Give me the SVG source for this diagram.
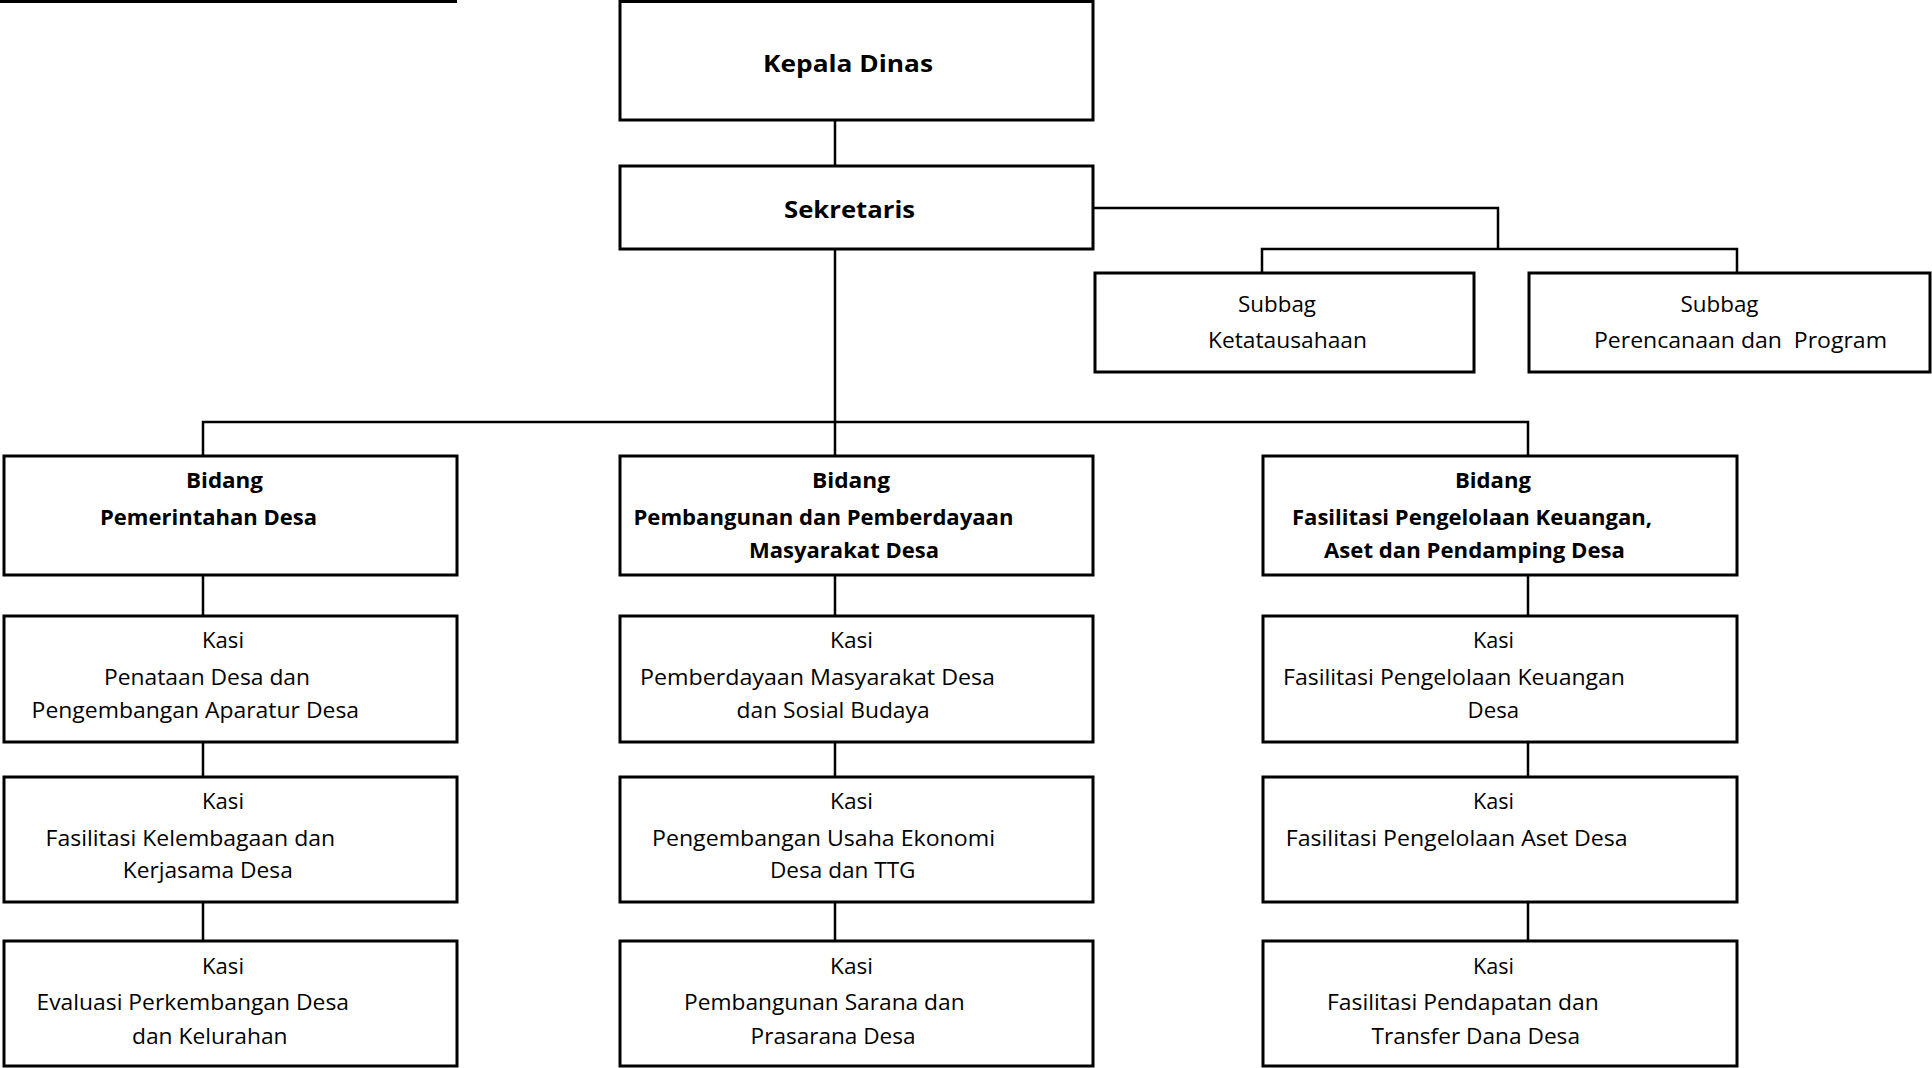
<svg xmlns="http://www.w3.org/2000/svg" width="1932" height="1068" viewBox="0 0 1932 1068">
<style>
.box{fill:#fff;stroke:#000;stroke-width:3}
.con{fill:none;stroke:#000;stroke-width:2.5}
text{font-family:"Open Sans","Noto Sans","Liberation Sans",sans-serif;fill:#000}
.t{font-size:24px;font-weight:bold}
.b{font-size:21px;font-weight:bold}
.r{font-size:21px}
</style>
<rect width="1932" height="1068" fill="#fff"/>
<line x1="0" y1="1.5" x2="457" y2="1.5" stroke="#000" stroke-width="3"/>
<g id="connectors">
<path class="con" d="M835,120 V456"/>
<path class="con" d="M1093,208 H1498 V249"/>
<path class="con" d="M1262,273 V249 H1737 V273"/>
<path class="con" d="M203,456 V422 H1528 V456"/>
<path class="con" d="M203,575 V616 M203,742 V777 M203,902 V941"/>
<path class="con" d="M835,575 V616 M835,742 V777 M835,902 V941"/>
<path class="con" d="M1528,575 V616 M1528,742 V777 M1528,902 V941"/>
</g>
<g id="kepala-dinas"><rect class="box" x="620" y="1.5" width="473" height="118.5"/>
<text class="t" x="763" y="72" textLength="170" lengthAdjust="spacingAndGlyphs">Kepala Dinas</text></g>
<g id="sekretaris"><rect class="box" x="620" y="166" width="473" height="83"/>
<text class="t" x="784" y="218" textLength="131" lengthAdjust="spacingAndGlyphs">Sekretaris</text></g>
<g id="subbag-ketatausahaan"><rect class="box" x="1095" y="273" width="379" height="99"/>
<text class="r" x="1238" y="312" textLength="78" lengthAdjust="spacingAndGlyphs">Subbag</text>
<text class="r" x="1208" y="348" textLength="159" lengthAdjust="spacingAndGlyphs">Ketatausahaan</text></g>
<g id="subbag-perencanaan"><rect class="box" x="1529" y="273" width="401" height="99"/>
<text class="r" x="1680.5" y="312" textLength="78" lengthAdjust="spacingAndGlyphs">Subbag</text>
<text class="r" x="1594" y="348" textLength="293" lengthAdjust="spacingAndGlyphs" style="white-space:pre">Perencanaan dan  Program</text></g>
<g id="bidang-pemerintahan"><rect class="box" x="4" y="456" width="453" height="119"/>
<text class="b" x="186" y="488" textLength="77" lengthAdjust="spacingAndGlyphs">Bidang</text>
<text class="b" x="100" y="525" textLength="217" lengthAdjust="spacingAndGlyphs">Pemerintahan Desa</text></g>
<g id="bidang-pembangunan"><rect class="box" x="620" y="456" width="473" height="119"/>
<text class="b" x="812" y="488" textLength="78" lengthAdjust="spacingAndGlyphs">Bidang</text>
<text class="b" x="633.5" y="525" textLength="380" lengthAdjust="spacingAndGlyphs">Pembangunan dan Pemberdayaan</text>
<text class="b" x="749" y="558" textLength="190" lengthAdjust="spacingAndGlyphs">Masyarakat Desa</text></g>
<g id="bidang-keuangan"><rect class="box" x="1263" y="456" width="474" height="119"/>
<text class="b" x="1455" y="488" textLength="76" lengthAdjust="spacingAndGlyphs">Bidang</text>
<text class="b" x="1292" y="525" textLength="360" lengthAdjust="spacingAndGlyphs">Fasilitasi Pengelolaan Keuangan,</text>
<text class="b" x="1324" y="558" textLength="301" lengthAdjust="spacingAndGlyphs">Aset dan Pendamping Desa</text></g>
<g id="kasi-penataan"><rect class="box" x="4" y="616" width="453" height="126"/>
<text class="r" x="202" y="648" textLength="42" lengthAdjust="spacingAndGlyphs">Kasi</text>
<text class="r" x="104" y="684.5" textLength="206" lengthAdjust="spacingAndGlyphs">Penataan Desa dan</text>
<text class="r" x="31.6" y="718" textLength="327.5" lengthAdjust="spacingAndGlyphs">Pengembangan Aparatur Desa</text></g>
<g id="kasi-kelembagaan"><rect class="box" x="4" y="777" width="453" height="125"/>
<text class="r" x="202" y="809" textLength="42" lengthAdjust="spacingAndGlyphs">Kasi</text>
<text class="r" x="45.6" y="846" textLength="289.5" lengthAdjust="spacingAndGlyphs">Fasilitasi Kelembagaan dan</text>
<text class="r" x="122.8" y="878" textLength="170" lengthAdjust="spacingAndGlyphs">Kerjasama Desa</text></g>
<g id="kasi-evaluasi"><rect class="box" x="4" y="941" width="453" height="125"/>
<text class="r" x="202" y="974" textLength="42" lengthAdjust="spacingAndGlyphs">Kasi</text>
<text class="r" x="36.5" y="1010" textLength="312.5" lengthAdjust="spacingAndGlyphs">Evaluasi Perkembangan Desa</text>
<text class="r" x="132" y="1044" textLength="155.6" lengthAdjust="spacingAndGlyphs">dan Kelurahan</text></g>
<g id="kasi-pemberdayaan"><rect class="box" x="620" y="616" width="473" height="126"/>
<text class="r" x="830" y="648" textLength="43" lengthAdjust="spacingAndGlyphs">Kasi</text>
<text class="r" x="640" y="684.5" textLength="355" lengthAdjust="spacingAndGlyphs">Pemberdayaan Masyarakat Desa</text>
<text class="r" x="736.6" y="718" textLength="193" lengthAdjust="spacingAndGlyphs">dan Sosial Budaya</text></g>
<g id="kasi-usaha-ekonomi"><rect class="box" x="620" y="777" width="473" height="125"/>
<text class="r" x="830" y="809" textLength="43" lengthAdjust="spacingAndGlyphs">Kasi</text>
<text class="r" x="652" y="846" textLength="343" lengthAdjust="spacingAndGlyphs">Pengembangan Usaha Ekonomi</text>
<text class="r" x="770" y="878" textLength="145.5" lengthAdjust="spacingAndGlyphs">Desa dan TTG</text></g>
<g id="kasi-sarana"><rect class="box" x="620" y="941" width="473" height="125"/>
<text class="r" x="830" y="974" textLength="43" lengthAdjust="spacingAndGlyphs">Kasi</text>
<text class="r" x="684" y="1010" textLength="280.6" lengthAdjust="spacingAndGlyphs">Pembangunan Sarana dan</text>
<text class="r" x="750.6" y="1044" textLength="165" lengthAdjust="spacingAndGlyphs">Prasarana Desa</text></g>
<g id="kasi-keuangan"><rect class="box" x="1263" y="616" width="474" height="126"/>
<text class="r" x="1473" y="648" textLength="41" lengthAdjust="spacingAndGlyphs">Kasi</text>
<text class="r" x="1283" y="684.5" textLength="342" lengthAdjust="spacingAndGlyphs">Fasilitasi Pengelolaan Keuangan</text>
<text class="r" x="1467.6" y="718" textLength="51.5" lengthAdjust="spacingAndGlyphs">Desa</text></g>
<g id="kasi-aset"><rect class="box" x="1263" y="777" width="474" height="125"/>
<text class="r" x="1473" y="809" textLength="41" lengthAdjust="spacingAndGlyphs">Kasi</text>
<text class="r" x="1285.7" y="846" textLength="342" lengthAdjust="spacingAndGlyphs">Fasilitasi Pengelolaan Aset Desa</text></g>
<g id="kasi-pendapatan"><rect class="box" x="1263" y="941" width="474" height="125"/>
<text class="r" x="1473" y="974" textLength="41" lengthAdjust="spacingAndGlyphs">Kasi</text>
<text class="r" x="1327" y="1010" textLength="271.7" lengthAdjust="spacingAndGlyphs">Fasilitasi Pendapatan dan</text>
<text class="r" x="1371.6" y="1044" textLength="208.4" lengthAdjust="spacingAndGlyphs">Transfer Dana Desa</text></g>
</svg>
